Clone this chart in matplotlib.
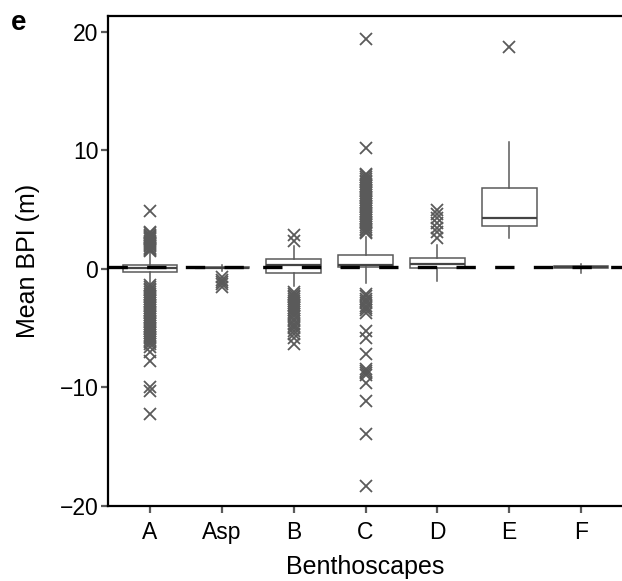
import matplotlib
matplotlib.use("Agg")
import matplotlib.pyplot as plt

plt.rcParams['font.family'] = ['Liberation Sans', 'DejaVu Sans']

categories = ["A", "Asp", "B", "C", "D", "E", "F"]

# box statistics
q1 = [-0.25, 0.05, -0.30, 0.15, 0.10, 3.63, 0.10]
med = [0.05, 0.12, 0.30, 0.35, 0.45, 4.33, 0.17]
q3 = [0.34, 0.20, 0.82, 1.15, 0.95, 6.80, 0.25]
whislo = [-1.30, -0.20, -1.45, -1.15, -1.00, 2.65, -0.30]
whishi = [1.40, 0.30, 1.90, 2.70, 2.00, 10.75, 0.45]

fliers_A = [1.5, 1.6, 1.7, 1.8, 1.9, 2.0, 2.1, 2.2, 2.3, 2.4, 2.5, 2.6, 2.7,
            2.8, 2.9, 3.0, 3.1, 4.9,
            -1.35, -1.5, -1.65, -1.8, -1.95, -2.1, -2.25, -2.4, -2.55, -2.7,
            -2.85, -3.0, -3.15, -3.3, -3.45, -3.6, -3.75, -3.9, -4.05, -4.2,
            -4.35, -4.5, -4.65, -4.8, -4.95, -5.1, -5.25, -5.4, -5.55, -5.7,
            -5.85, -6.0, -6.15, -6.3, -6.55, -7.0, -7.8, -10.0, -10.3, -12.2]
fliers_Asp = [-0.7, -0.9, -1.1, -1.3, -1.5]
fliers_B = [2.4, 2.9,
            -1.95, -2.1, -2.25, -2.4, -2.55, -2.7, -2.85, -3.0, -3.15, -3.3,
            -3.45, -3.6, -3.8, -4.0, -4.2, -4.4, -4.6, -4.8, -5.0, -5.2,
            -5.5, -5.8, -6.3]
fliers_C = [19.4, 10.2, 8.05, 7.9, 7.75, 7.6, 7.45, 7.3, 7.15, 7.0, 6.85,
            6.7, 6.55, 6.4, 6.25, 6.1, 5.95, 5.8, 5.65, 5.5, 5.35, 5.2,
            5.05, 4.9, 4.75, 4.6, 4.45, 4.3, 4.15, 4.0, 3.85, 3.7, 3.55,
            3.4, 3.25, 3.1, 3.0,
            -2.1, -2.3, -2.5, -2.7, -2.9, -3.1, -3.3, -3.5, -3.7,
            -5.2, -5.8, -7.2, -8.4, -8.6, -8.8, -8.95, -9.6, -11.1,
            -13.9, -18.3]
fliers_D = [5.0, 4.6, 4.3, 3.9, 3.5, 3.1, 2.6]
fliers_E = [18.7]
fliers_F = []
fliers = [fliers_A, fliers_Asp, fliers_B, fliers_C, fliers_D, fliers_E, fliers_F]

ref_line = 0.2
yticks = [-20, -10, 0, 10, 20]

fig = plt.figure(figsize=(6.22, 5.81), dpi=100)
ax = fig.add_axes([108 / 622, 75 / 581, 1 - 108 / 622, 490 / 581])

stats = []
for i, c in enumerate(categories):
    stats.append(dict(label=c, q1=q1[i], med=med[i], q3=q3[i],
                      whislo=whislo[i], whishi=whishi[i], fliers=fliers[i]))

gray = "#5a5a5a"
ax.bxp(stats, positions=range(len(categories)), widths=0.76,
       showcaps=False, patch_artist=True,
       boxprops=dict(facecolor="white", edgecolor=gray, linewidth=1.1),
       whiskerprops=dict(color=gray, linewidth=1.1),
       medianprops=dict(color="#444444", linewidth=1.6),
       flierprops=dict(marker="x", markersize=8.5, markeredgewidth=1.3,
                       markeredgecolor=gray, linestyle="none"))

ax.axhline(ref_line, color="black", linewidth=2.4, linestyle=(0, (5.8, 5.8)),
           zorder=5)

ax.set_xlim(-0.585, 6.57)
ax.set_ylim(-20, 21.35)
ax.set_yticks(yticks)
ax.set_yticklabels(["\u221220", "\u221210", "0", "10", "20"])
ax.set_xticks(range(len(categories)))
ax.set_xticklabels(categories)

ax.spines['right'].set_visible(False)
for s in ['left', 'bottom', 'top']:
    ax.spines[s].set_linewidth(1.6)
    ax.spines[s].set_color("black")

ax.tick_params(axis='both', direction='out', length=5, width=1.6,
               color=gray, labelsize=16.5, labelcolor="black")
ax.tick_params(axis='x', pad=5.5)
ax.tick_params(axis='y', pad=2)

ax.set_xlabel("Benthoscapes", fontsize=18, labelpad=8)
ax.set_ylabel("Mean BPI (m)", fontsize=18, labelpad=14)

fig.text(11 / 622, 1 - 23 / 581, "e", fontsize=20, fontweight="bold",
         ha="left", va="center")

fig.savefig("out.png", dpi=100)
